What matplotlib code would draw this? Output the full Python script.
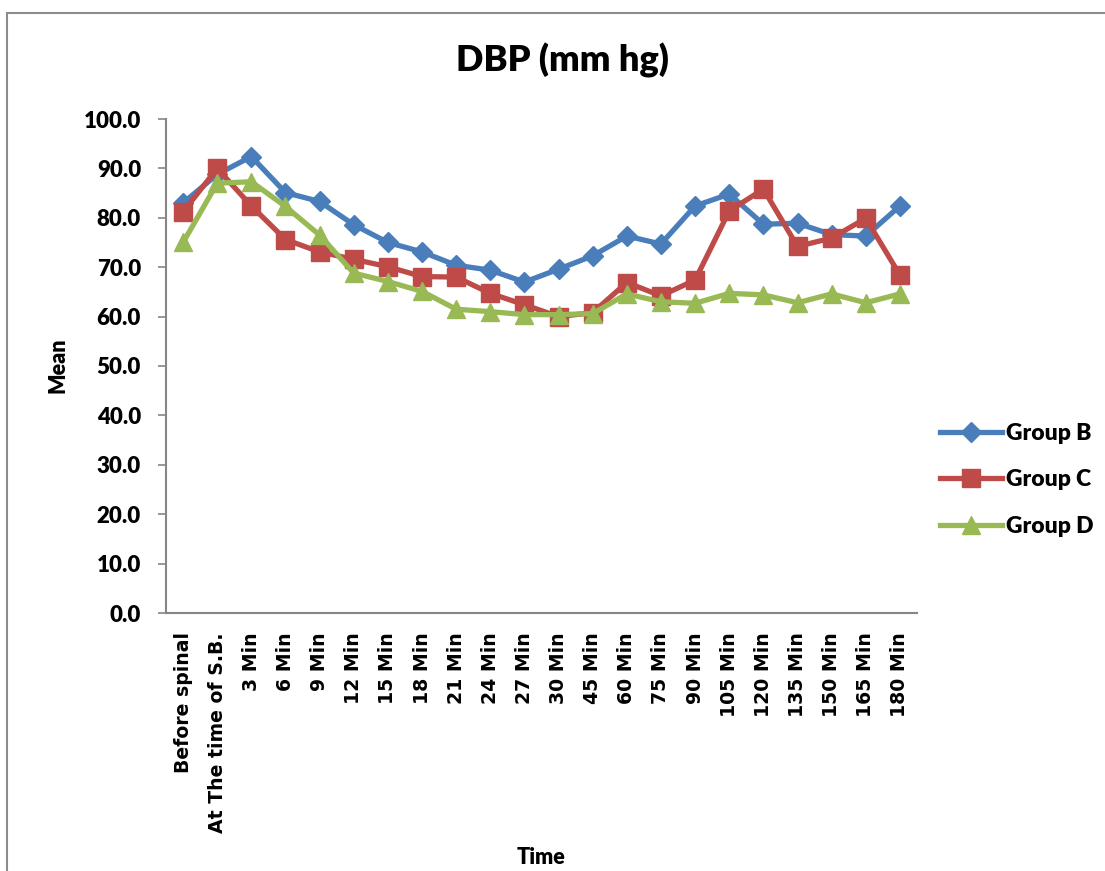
import matplotlib.pyplot as plt
from matplotlib.patches import Rectangle

times = ["Before spinal", "At The time of S.B.", "3 Min", "6 Min", "9 Min",
         "12 Min", "15 Min", "18 Min", "21 Min", "24 Min", "27 Min", "30 Min",
         "45 Min", "60 Min", "75 Min", "90 Min", "105 Min", "120 Min",
         "135 Min", "150 Min", "165 Min", "180 Min"]

group_b = [83.0, 88.8, 92.4, 85.1, 83.3, 78.6, 75.0, 73.1, 70.4, 69.4, 67.0,
           69.6, 72.3, 76.3, 74.7, 82.4, 84.8, 78.7, 78.9, 76.6, 76.3, 82.4]
group_c = [81.2, 90.0, 82.4, 75.6, 73.1, 71.6, 70.1, 68.1, 68.0, 64.7, 62.4,
           60.0, 60.8, 66.9, 64.2, 67.4, 81.4, 85.8, 74.2, 75.9, 79.9, 68.4]
group_d = [75.0, 87.0, 87.3, 82.3, 76.5, 68.8, 67.1, 65.1, 61.5, 61.0, 60.4,
           60.4, 60.6, 64.6, 63.0, 62.7, 64.7, 64.4, 62.8, 64.6, 62.8, 64.6]

series = [("Group B", group_b, "#4A7EBB", "D", 10.5),
          ("Group C", group_c, "#BE4B48", "s", 12.5),
          ("Group D", group_d, "#98B954", "^", 13.5)]

W, H = 1105, 871
fig = plt.figure(figsize=(W / 100, H / 100), dpi=100)

# outer chart border (only top and left edges are inside the image)
fig.patches.append(Rectangle((7 / W, -0.1), 1.2, 1.1 - 13 / H,
                             transform=fig.transFigure, fill=False,
                             edgecolor="#8c8c8c", linewidth=1.5))

ax = fig.add_axes([166 / W, 1 - 613 / H, 751 / W, 494 / H])

x = list(range(len(times)))
for name, vals, col, mk, ms in series:
    ax.plot(x, vals, color=col, linewidth=3.8, marker=mk, markersize=ms,
            label=name)

ax.set_xlim(-0.5, len(times) - 0.5)
ax.set_ylim(0, 100)
ax.set_yticks(range(0, 101, 10))
ax.set_yticklabels([f"{v:.1f}" for v in range(0, 101, 10)],
                   family="Lato", fontweight="heavy", fontsize=16)
ax.set_xticks(x)
ax.set_xticklabels(times, rotation=90, family="DejaVu Sans",
                   fontweight="bold", fontsize=13.6, va="top", ha="center")
ax.tick_params(axis="y", length=6, color="#868686", width=1.2, pad=12)
ax.tick_params(axis="x", length=0, pad=14)

for side in ("top", "right"):
    ax.spines[side].set_visible(False)
for side in ("left", "bottom"):
    ax.spines[side].set_color("#868686")
    ax.spines[side].set_linewidth(1.5)

fig.text(562 / W, 1 - 60 / H, "DBP (mm hg)", family="Lato",
         fontweight="heavy", fontsize=26, ha="center", va="center")
fig.text(58 / W, 1 - 365 / H, "Mean", family="Lato", fontweight="heavy",
         fontsize=15.5, rotation=90, ha="center", va="center")
fig.text(541 / W, 1 - 857 / H, "Time", family="Lato", fontweight="heavy",
         fontsize=15.5, ha="center", va="center")

leg = fig.legend(loc="center left", bbox_to_anchor=(940 / W, 1 - 480 / H),
                 frameon=False, borderpad=0, borderaxespad=0,
                 handlelength=2.7, handletextpad=0.2, labelspacing=1.1,
                 prop={"family": "Lato", "weight": "heavy", "size": 16.5})

fig.savefig("out.png", dpi=100)
